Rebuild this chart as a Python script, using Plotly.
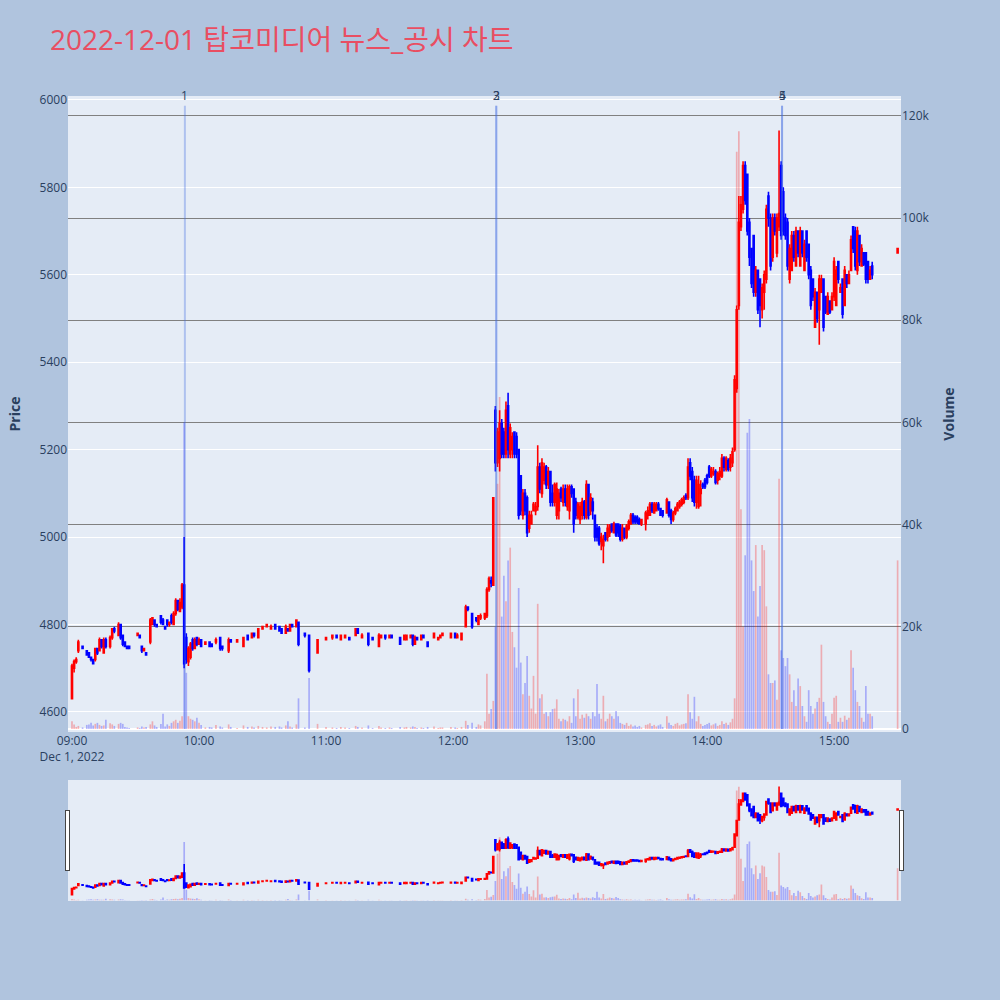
import pandas as pd
import plotly.graph_objects as go

# ---------------- data (1-minute candles, minutes after 09:00) ----------------
minutes = [
    0, 1, 2, 3, 5, 7, 8, 9, 10, 11, 12, 13, 14, 15, 16, 18, 19, 20, 22, 23,
    24, 25, 26, 27, 31, 32, 33, 34, 35, 37, 38, 39, 40, 42, 43, 44, 45, 46, 47, 48,
    49, 50, 51, 52, 53, 54, 55, 56, 57, 58, 59, 60, 61,
    63, 65, 66, 68, 70, 71, 74, 75, 78, 81, 83, 85, 86, 88, 90, 92, 94, 96, 98, 99,
    101, 102, 103, 104, 106, 107, 110, 112, 116, 120, 123, 125, 127, 129, 131, 134, 135, 137, 140, 142,
    145, 146, 148, 150, 151, 155, 157, 158, 160, 161, 162, 163, 165, 166, 168, 171, 173, 174, 175, 179,
    181, 182, 184, 186, 187, 189, 191, 192, 193, 195, 196, 197, 198, 199,
    200, 201, 202, 203, 204, 205, 206, 207, 208, 209, 210, 211, 212, 213, 214, 215, 216, 217, 218, 219,
    220, 221, 222, 223, 224, 225, 226, 227, 228, 229, 230, 231, 232, 233, 234, 235, 236, 237, 238, 239,
    240, 241, 242, 243, 244, 245, 246, 247, 248, 249, 250, 251, 252, 253, 254, 255, 256, 257, 258,
    259, 260, 261, 262, 263, 264, 265, 266, 267, 268, 269,
    271, 272, 273, 274, 275, 276, 277, 278, 279,
    281, 282, 283, 284, 285, 286, 287, 288, 289, 290, 291, 292, 293, 294, 295, 296, 297, 298, 299, 300,
    301, 302, 303, 304, 305, 306, 307, 308, 309, 310, 311, 312,
    313, 314, 315, 316, 317, 318, 319, 320, 321, 322, 323, 324, 325, 326, 327, 328, 329, 330, 331, 332,
    333, 334, 335, 336, 337, 338, 339, 340, 341, 342, 343, 344, 345, 346, 347, 348, 349, 350, 351, 352,
    353, 354, 355, 356, 357, 358, 359, 360, 361, 362, 363, 364, 365, 366, 367, 368, 369, 370, 371, 372,
    373, 374, 375, 376, 377, 378, 390,
]

opens = [
    4630, 4700, 4715, 4740, 4750, 4740, 4735, 4725, 4720, 4720, 4745, 4740, 4765, 4735, 4765, 4750, 4770, 4790, 4775, 4800,
    4775, 4760, 4750, 4750, 4775, 4775, 4750, 4740, 4735, 4760, 4800, 4810, 4800, 4820, 4810, 4795, 4810, 4800, 4820, 4800,
    4825, 4855, 4830, 4840, 4890, 4770, 4715, 4725, 4765, 4745, 4770, 4755, 4765,
    4755, 4760, 4755, 4760, 4770, 4750, 4740, 4765, 4760, 4750, 4775, 4770, 4780, 4770, 4790, 4795, 4790, 4800, 4795, 4790,
    4780, 4790, 4785, 4800, 4795, 4805, 4780, 4775, 4735, 4765, 4770, 4775, 4765, 4770, 4770, 4775, 4790, 4770, 4780, 4770,
    4750, 4770, 4775, 4770, 4775, 4770, 4765, 4765, 4770, 4775, 4755, 4770, 4765, 4775, 4760, 4770, 4765, 4770, 4775, 4770,
    4780, 4770, 4765, 4795, 4840, 4825, 4815, 4800, 4815, 4815, 4820, 4880, 4900, 4890,
    5290, 5170, 5180, 5260, 5240, 5190, 5300, 5190, 5200, 5240, 5230, 5200, 5140, 5050, 5100, 5090, 5020, 5030, 5060, 5060,
    5070, 5160, 5100, 5130, 5160, 5120, 5150, 5100, 5080, 5050, 5060, 5110, 5080, 5110, 5070, 5060, 5115, 5110, 5080, 5045,
    5040, 5050, 5080, 5045, 5120, 5060, 5080, 5050, 5020, 5020, 4990, 4980, 5010, 5000, 5010, 5030, 5010, 5030, 5030,
    5025, 4995, 5020, 5000, 5020, 5030, 5050, 5045, 5045, 5040, 5030,
    5030, 5050, 5050, 5075, 5055, 5060, 5075, 5065, 5060,
    5055, 5080, 5060, 5040, 5055, 5060, 5070, 5075, 5080, 5095, 5090, 5170, 5150, 5130, 5080, 5070, 5100, 5120, 5130, 5140,
    5160, 5140, 5145, 5150, 5130, 5140, 5140, 5180, 5155, 5175, 5160, 5170,
    5200, 5340, 5530, 5710, 5750, 5850, 5830, 5720, 5660, 5690, 5560, 5610, 5590, 5520, 5560, 5590, 5780, 5730, 5640, 5730,
    5650, 5710, 5850, 5790, 5730, 5720, 5590, 5610, 5690, 5620, 5700, 5620, 5700, 5610, 5700, 5670, 5610, 5590, 5480, 5560,
    5520, 5560, 5590, 5550, 5510, 5540, 5520, 5550, 5530, 5630, 5560, 5590, 5530, 5600, 5580, 5610, 5710, 5700, 5610, 5690,
    5620, 5650, 5650, 5630, 5590, 5620, 5650,
]

highs = [
    4710, 4720, 4725, 4765, 4750, 4740, 4735, 4725, 4720, 4745, 4745, 4770, 4765, 4770, 4770, 4775, 4790, 4795, 4805, 4800,
    4775, 4760, 4750, 4750, 4780, 4775, 4750, 4745, 4735, 4815, 4815, 4810, 4800, 4820, 4815, 4795, 4810, 4805, 4825, 4830,
    4860, 4855, 4860, 4895, 5000, 4780, 4750, 4760, 4770, 4770, 4770, 4770, 4765,
    4760, 4760, 4755, 4770, 4770, 4750, 4770, 4765, 4765, 4770, 4775, 4780, 4780, 4790, 4795, 4800, 4800, 4800, 4795, 4790,
    4800, 4790, 4800, 4800, 4810, 4805, 4780, 4775, 4765, 4770, 4775, 4775, 4775, 4775, 4770, 4790, 4790, 4780, 4780, 4770,
    4780, 4775, 4775, 4775, 4775, 4770, 4775, 4775, 4775, 4775, 4775, 4770, 4775, 4775, 4760, 4780, 4770, 4775, 4780, 4780,
    4780, 4780, 4780, 4845, 4840, 4825, 4815, 4820, 4825, 4825, 4885, 4910, 4910, 5090,
    5300, 5250, 5290, 5270, 5250, 5310, 5330, 5260, 5240, 5240, 5240, 5200, 5140, 5110, 5110, 5095, 5060, 5060, 5080, 5080,
    5210, 5170, 5180, 5170, 5165, 5160, 5150, 5120, 5125, 5125, 5110, 5115, 5120, 5120, 5120, 5120, 5120, 5110, 5090, 5080,
    5080, 5090, 5085, 5130, 5120, 5100, 5090, 5050, 5030, 5025, 5010, 5005, 5010, 5030, 5030, 5030, 5035, 5030, 5030,
    5030, 5030, 5020, 5030, 5040, 5055, 5055, 5050, 5050, 5045, 5040,
    5060, 5070, 5080, 5080, 5080, 5080, 5080, 5065, 5060,
    5090, 5080, 5065, 5060, 5070, 5080, 5085, 5090, 5095, 5100, 5180, 5180, 5160, 5140, 5140, 5140, 5130, 5125, 5135, 5145,
    5165, 5160, 5160, 5155, 5150, 5160, 5190, 5185, 5185, 5180, 5190, 5205,
    5370, 5530, 5780, 5780, 5860, 5860, 5830, 5730, 5660, 5690, 5620, 5610, 5590, 5580, 5610, 5760, 5790, 5740, 5740, 5740,
    5740, 5930, 5860, 5800, 5740, 5730, 5670, 5700, 5700, 5710, 5700, 5710, 5700, 5680, 5700, 5670, 5620, 5590, 5570, 5560,
    5600, 5600, 5590, 5550, 5560, 5540, 5560, 5640, 5620, 5630, 5580, 5590, 5620, 5600, 5610, 5690, 5710, 5710, 5710, 5690,
    5670, 5650, 5650, 5630, 5620, 5630, 5660,
]

lows = [
    4630, 4690, 4710, 4735, 4745, 4730, 4725, 4715, 4710, 4715, 4730, 4740, 4745, 4735, 4745, 4745, 4765, 4780, 4775, 4765,
    4750, 4750, 4745, 4745, 4775, 4770, 4735, 4740, 4730, 4755, 4800, 4795, 4795, 4800, 4800, 4790, 4795, 4795, 4800, 4800,
    4820, 4830, 4830, 4835, 4700, 4710, 4705, 4720, 4740, 4745, 4750, 4755, 4750,
    4755, 4750, 4750, 4755, 4740, 4740, 4735, 4760, 4760, 4750, 4765, 4770, 4770, 4770, 4790, 4795, 4790, 4790, 4785, 4780,
    4780, 4785, 4785, 4795, 4795, 4750, 4770, 4690, 4735, 4765, 4765, 4770, 4765, 4770, 4765, 4775, 4780, 4770, 4750, 4765,
    4750, 4770, 4765, 4770, 4770, 4755, 4765, 4765, 4770, 4750, 4755, 4765, 4765, 4770, 4750, 4770, 4765, 4770, 4775, 4770,
    4770, 4770, 4765, 4795, 4830, 4790, 4805, 4800, 4810, 4810, 4815, 4875, 4885, 4890,
    5150, 5160, 5150, 5180, 5180, 5180, 5180, 5180, 5180, 5180, 5180, 5040, 5050, 5040, 5050, 5000, 5010, 5030, 5060, 5050,
    5060, 5100, 5090, 5120, 5110, 5110, 5070, 5070, 5070, 5040, 5040, 5080, 5070, 5070, 5060, 5040, 5090, 5010, 5040, 5040,
    5030, 5040, 5040, 5040, 5040, 5050, 5040, 4990, 4990, 4980, 4970, 4940, 4990, 4990, 5000, 5010, 5010, 5000, 5000,
    4990, 4990, 4995, 4995, 5015, 5030, 5030, 5030, 5030, 5030, 5025,
    5015, 5040, 5050, 5055, 5055, 5060, 5060, 5050, 5045,
    5055, 5045, 5030, 5035, 5050, 5060, 5065, 5070, 5075, 5085, 5085, 5130, 5080, 5070, 5065, 5065, 5070, 5110, 5110, 5120,
    5135, 5135, 5140, 5120, 5120, 5130, 5135, 5150, 5150, 5150, 5150, 5160,
    5195, 5330, 5520, 5700, 5740, 5760, 5690, 5620, 5570, 5550, 5550, 5510, 5480, 5500, 5520, 5580, 5710, 5610, 5630, 5690,
    5640, 5700, 5680, 5690, 5680, 5610, 5580, 5610, 5630, 5620, 5640, 5620, 5640, 5610, 5630, 5590, 5520, 5540, 5480, 5490,
    5440, 5560, 5470, 5510, 5510, 5510, 5520, 5540, 5530, 5580, 5560, 5500, 5530, 5570, 5580, 5610, 5650, 5610, 5600, 5620,
    5620, 5620, 5580, 5580, 5590, 5590, 5650,
]

closes = [
    4705, 4715, 4720, 4760, 4745, 4730, 4725, 4720, 4710, 4745, 4735, 4765, 4750, 4765, 4750, 4770, 4790, 4785, 4800, 4770,
    4755, 4750, 4745, 4745, 4780, 4770, 4740, 4745, 4730, 4810, 4815, 4800, 4795, 4805, 4800, 4790, 4800, 4805, 4805, 4825,
    4855, 4835, 4850, 4890, 4710, 4720, 4745, 4755, 4745, 4765, 4755, 4765, 4750,
    4760, 4750, 4750, 4765, 4745, 4745, 4765, 4760, 4765, 4770, 4765, 4780, 4775, 4790, 4795, 4800, 4795, 4790, 4785, 4780,
    4795, 4785, 4800, 4795, 4810, 4755, 4775, 4695, 4765, 4770, 4775, 4770, 4775, 4775, 4765, 4790, 4780, 4775, 4755, 4765,
    4775, 4775, 4770, 4775, 4770, 4755, 4775, 4775, 4775, 4755, 4770, 4765, 4775, 4770, 4750, 4780, 4770, 4775, 4780, 4780,
    4770, 4775, 4780, 4840, 4835, 4795, 4810, 4820, 4820, 4825, 4880, 4905, 4895, 5090,
    5170, 5240, 5260, 5190, 5190, 5290, 5200, 5250, 5230, 5190, 5190, 5050, 5060, 5100, 5060, 5010, 5050, 5050, 5075, 5070,
    5160, 5110, 5170, 5160, 5120, 5150, 5080, 5080, 5120, 5110, 5100, 5090, 5110, 5080, 5110, 5115, 5100, 5030, 5050, 5075,
    5070, 5080, 5050, 5120, 5050, 5090, 5060, 5000, 5000, 4985, 5000, 4995, 4995, 5020, 5025, 5015, 5030, 5005, 5010,
    4995, 5020, 5000, 5025, 5035, 5050, 5035, 5035, 5035, 5030, 5040,
    5055, 5060, 5075, 5060, 5075, 5075, 5065, 5050, 5050,
    5085, 5050, 5040, 5055, 5065, 5075, 5080, 5085, 5090, 5090, 5160, 5140, 5090, 5080, 5130, 5120, 5110, 5115, 5115, 5125,
    5140, 5155, 5150, 5125, 5145, 5150, 5180, 5160, 5180, 5155, 5180, 5195,
    5360, 5520, 5720, 5760, 5850, 5770, 5700, 5640, 5580, 5560, 5610, 5520, 5530, 5570, 5600, 5750, 5730, 5620, 5730, 5700,
    5730, 5740, 5690, 5700, 5690, 5620, 5660, 5690, 5640, 5700, 5650, 5700, 5650, 5670, 5640, 5600, 5530, 5550, 5560, 5500,
    5590, 5590, 5480, 5515, 5550, 5515, 5550, 5630, 5610, 5590, 5570, 5510, 5610, 5580, 5600, 5680, 5660, 5620, 5700, 5630,
    5660, 5625, 5590, 5590, 5610, 5600, 5660,
]

volumes = [
    1500, 900, 400, 600, 300, 800, 900, 1200, 700, 1000, 1200, 800, 600, 700, 1800, 1100, 900, 600, 1000, 1200,
    1000, 400, 300, 200, 300, 200, 500, 300, 400, 900, 1500, 700, 400, 1000, 3000, 500, 900, 600, 1200, 1500,
    1800, 1200, 1600, 2500, 60000, 11000, 2500, 2000, 1800, 1500, 2200, 1200, 800,
    300, 400, 300, 800, 500, 300, 900, 400, 200, 700, 400, 500, 300, 600, 400, 300, 500, 400, 500, 300,
    700, 1500, 500, 300, 900, 6000, 300, 10000, 1000, 400, 300, 200, 400, 300, 200, 600, 400, 300, 700, 200,
    600, 300, 200, 300, 200, 400, 300, 400, 300, 500, 400, 200, 300, 200, 400, 500, 200, 300, 300, 400,
    300, 200, 400, 1600, 800, 1200, 400, 900, 700, 1500, 10800, 3000, 3900, 5500,
    20000, 48000, 65000, 22000, 30000, 25000, 33000, 35500, 19000, 16000, 12000, 27600, 13000, 6800, 9000, 14300, 6500, 4000, 10400, 3000,
    24500, 6000, 6800, 3000, 3300, 2500, 3300, 3900, 4000, 5800, 2000, 1500, 2000, 1800, 1500, 2500, 1200, 6000, 2500, 7800,
    2000, 2800, 2200, 3000, 2500, 2000, 3300, 2500, 8800, 3000, 2000, 6500, 1500, 2000, 3000, 2500, 2000, 3500, 2500,
    1200, 1000, 800, 1200, 600, 900, 500, 700, 400, 600, 300,
    800, 900, 1100, 600, 800, 500, 700, 900, 400,
    2500, 1200, 800, 600, 1000, 1200, 700, 900, 1000, 1100, 6800, 3300, 2000, 6300, 1500, 2500, 1000, 600, 800, 1000,
    1200, 700, 900, 1100, 600, 800, 1500, 1000, 1200, 800, 1300, 2000,
    6000, 113000, 117000, 43000, 20000, 34000, 58000, 60700, 33000, 27000, 36000, 22000, 28000, 36000, 35000, 24000, 10700, 9000, 9000, 9500,
    5700, 49000, 15400, 13900, 12300, 13900, 10700, 5300, 7600, 4500, 9900, 8400, 4500, 2500, 1400, 7600, 4500, 3000, 4000, 5300,
    6100, 16500, 5300, 2500, 1400, 1000, 3000, 6100, 6500, 1400, 2200, 1400, 2600, 1800, 2200, 15400, 12000, 7600, 5300, 4500,
    2200, 1400, 8400, 3000, 3000, 2500, 33000,
]

news_times = ["09:53:20", "12:20:25", "12:20:25", "14:35:25", "14:35:25"]
news_labels = ["1", "2", "3", "4", "5"]

trade_date = "2022-12-01"
title_text = "2022-12-01 탑코미디어 뉴스_공시 차트"

assert len(minutes) == len(opens) == len(highs) == len(lows) == len(closes) == len(volumes)

# ---------------- figure ----------------
base = pd.Timestamp(f"{trade_date} 09:00:00")
times = [base + pd.Timedelta(minutes=m) for m in minutes]
up = [c >= o for o, c in zip(opens, closes)]
vol_colors = ["rgba(255,0,0,0.27)" if u else "rgba(0,0,255,0.27)" for u in up]

fig = go.Figure()
fig.add_trace(go.Candlestick(
    x=times, open=opens, high=highs, low=lows, close=closes,
    increasing=dict(line=dict(color="red", width=1.6), fillcolor="red"),
    decreasing=dict(line=dict(color="blue", width=1.6), fillcolor="blue"),
    yaxis="y", name="Price", showlegend=False,
))
fig.add_trace(go.Bar(
    x=times, y=volumes, marker=dict(color=vol_colors, line=dict(width=0)),
    yaxis="y2", name="Volume", showlegend=False,
))

x_range = [f"{trade_date} 08:58:07", f"{trade_date} 15:31:36"]

shapes = []
annotations = []
for t, lab in zip(news_times, news_labels):
    ts = f"{trade_date} {t}"
    shapes.append(dict(type="line", xref="x", yref="y2", x0=ts, x1=ts, y0=0, y1=122000,
                       line=dict(color="rgba(65,105,225,0.33)", width=2)))
    annotations.append(dict(x=ts, y=122000, xref="x", yref="y2", text=lab, showarrow=False,
                            yanchor="bottom", font=dict(size=12, color="#2a3f5f")))

fig.update_layout(
    width=1000, height=1000,
    template="plotly",
    font=dict(family="Open Sans, Noto Sans CJK KR, sans-serif"),
    paper_bgcolor="#B0C4DE",
    plot_bgcolor="#E5ECF6",
    title=dict(text=title_text, x=0.05, xanchor="left", y=0.96, yanchor="middle", yref="container",
               font=dict(size=28, color="rgb(233,78,98)", family="Open Sans, Noto Sans CJK KR, sans-serif")),
    margin=dict(l=68, r=99, t=96, b=100),
    showlegend=False,
    bargap=0.2,
    xaxis=dict(type="date", range=x_range, showgrid=False,
               rangeslider=dict(visible=True, range=x_range)),
    yaxis=dict(title=dict(text="<b>Price</b>"), range=[4554, 6009], dtick=200, side="left"),
    yaxis2=dict(title=dict(text="<b>Volume</b>"), overlaying="y", side="right",
                range=[-590, 123900], dtick=20000, showgrid=True, gridcolor="grey", gridwidth=1),
    shapes=shapes,
    annotations=annotations,
)

fig.write_html("out.html", config={"displayModeBar": False},
               post_script="document.body.style.margin='0';document.body.style.padding='0';")
